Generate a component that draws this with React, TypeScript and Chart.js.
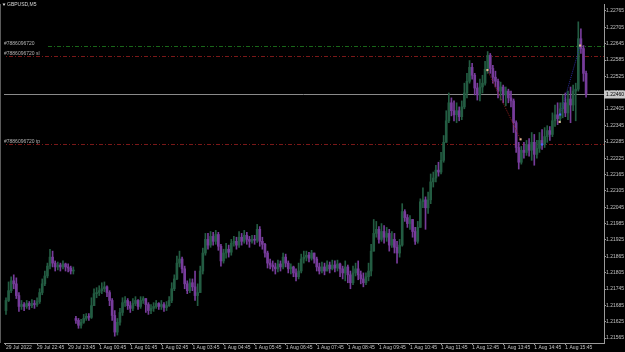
import React, { useEffect, useRef } from "react";
import { Chart, registerables } from "chart.js";

Chart.register(...registerables);

const symbolTitle = "GBPUSD,M5";

const timeLabels = [
  "29 Jul 2022", "29 Jul 22:45", "29 Jul 23:45", "1 Aug 00:45", "1 Aug 01:45",
  "1 Aug 02:45", "1 Aug 03:45", "1 Aug 04:45", "1 Aug 05:45", "1 Aug 06:45",
  "1 Aug 07:45", "1 Aug 08:45", "1 Aug 09:45", "1 Aug 10:45", "1 Aug 11:45",
  "1 Aug 12:45", "1 Aug 13:45", "1 Aug 14:45", "1 Aug 15:45",
];
const timeLabelIndex = [0, 12, 24, 36, 48, 60, 72, 84, 96, 108, 120, 132, 144, 156, 168, 180, 192, 204, 216];

const priceTicks = [
  1.22765, 1.22705, 1.22645, 1.22585, 1.22525, 1.22465, 1.22405, 1.22345, 1.22285, 1.22225,
  1.22165, 1.22105, 1.22045, 1.21985, 1.21925, 1.21865, 1.21805, 1.21745, 1.21685, 1.21625, 1.21565,
];

const closes = [
  1.21703, 1.21739, 1.21775, 1.21764, 1.21721, 1.21681, 1.21688, 1.21681, 1.21692, 1.21684,
  1.21692, 1.21688, 1.21699, 1.21732, 1.21764, 1.21793, 1.21829, 1.21862, 1.21840, 1.21826,
  1.21833, 1.21826, 1.21837, 1.21826, 1.21822, 1.21811, 1.21811, 1.21630, 1.21612, 1.21623,
  1.21637, 1.21645, 1.21641, 1.21684, 1.21728, 1.21732, 1.21739, 1.21746, 1.21753, 1.21732,
  1.21703, 1.21648, 1.21587, 1.21623, 1.21659, 1.21695, 1.21703, 1.21684, 1.21674, 1.21692,
  1.21703, 1.21681, 1.21703, 1.21710, 1.21688, 1.21666, 1.21674, 1.21681, 1.21692, 1.21681,
  1.21688, 1.21677, 1.21684, 1.21703, 1.21746, 1.21782, 1.21840, 1.21855, 1.21819, 1.21764,
  1.21739, 1.21768, 1.21753, 1.21721, 1.21732, 1.21811, 1.21877, 1.21927, 1.21906, 1.21938,
  1.21920, 1.21945, 1.21902, 1.21848, 1.21877, 1.21891, 1.21880, 1.21913, 1.21920, 1.21906,
  1.21935, 1.21920, 1.21942, 1.21927, 1.21920, 1.21927, 1.21924, 1.21964, 1.21920, 1.21909,
  1.21877, 1.21840, 1.21833, 1.21826, 1.21819, 1.21837, 1.21826, 1.21862, 1.21840, 1.21819,
  1.21826, 1.21804, 1.21790, 1.21811, 1.21855, 1.21862, 1.21869, 1.21858, 1.21877, 1.21855,
  1.21826, 1.21811, 1.21826, 1.21811, 1.21833, 1.21819, 1.21833, 1.21822, 1.21837, 1.21819,
  1.21804, 1.21826, 1.21797, 1.21768, 1.21804, 1.21819, 1.21797, 1.21782, 1.21768, 1.21790,
  1.21811, 1.21884, 1.21949, 1.21964, 1.21927, 1.21956, 1.21935, 1.21949, 1.21906, 1.21927,
  1.21898, 1.21877, 1.21906, 1.22029, 1.22007, 1.21985, 1.22000, 1.21956, 1.21920, 1.21971,
  1.22065, 1.22072, 1.22043, 1.22072, 1.22138, 1.22152, 1.22181, 1.22174, 1.22217, 1.22283,
  1.22362, 1.22428, 1.22399, 1.22384, 1.22399, 1.22377, 1.22413, 1.22464, 1.22507, 1.22558,
  1.22529, 1.22482, 1.22457, 1.22486, 1.22500, 1.22551, 1.22602, 1.22554, 1.22522, 1.22507,
  1.22471, 1.22486, 1.22457, 1.22471, 1.22446, 1.22435, 1.22355, 1.22264, 1.22210, 1.22254,
  1.22246, 1.22275, 1.22254, 1.22283, 1.22239, 1.22261, 1.22290, 1.22275, 1.22304, 1.22326,
  1.22312, 1.22362, 1.22384, 1.22370, 1.22406, 1.22428, 1.22391, 1.22442, 1.22420, 1.22471,
  1.22478, 1.22663, 1.22627, 1.22536, 1.22460,
];

const highs = [
  1.21713, 1.21771, 1.21790, 1.21797, 1.21786, 1.21732, 1.21703, 1.21695, 1.21703, 1.21699,
  1.21706, 1.21703, 1.21713, 1.21746, 1.21782, 1.21811, 1.21840, 1.21891, 1.21884, 1.21848,
  1.21844, 1.21840, 1.21848, 1.21840, 1.21837, 1.21829, 1.21826, 1.21645, 1.21637, 1.21634,
  1.21652, 1.21655, 1.21655, 1.21713, 1.21746, 1.21750, 1.21757, 1.21768, 1.21771, 1.21757,
  1.21739, 1.21710, 1.21666, 1.21637, 1.21674, 1.21713, 1.21717, 1.21710, 1.21699, 1.21710,
  1.21717, 1.21706, 1.21717, 1.21717, 1.21710, 1.21695, 1.21688, 1.21695, 1.21703, 1.21695,
  1.21703, 1.21695, 1.21699, 1.21717, 1.21768, 1.21797, 1.21866, 1.21884, 1.21862, 1.21829,
  1.21775, 1.21782, 1.21782, 1.21811, 1.21764, 1.21829, 1.21895, 1.21949, 1.21949, 1.21956,
  1.21953, 1.21960, 1.21953, 1.21909, 1.21891, 1.21913, 1.21906, 1.21927, 1.21938, 1.21935,
  1.21956, 1.21949, 1.21960, 1.21953, 1.21938, 1.21942, 1.21942, 1.21982, 1.21974, 1.21935,
  1.21913, 1.21884, 1.21855, 1.21848, 1.21840, 1.21851, 1.21848, 1.21877, 1.21873, 1.21848,
  1.21837, 1.21829, 1.21819, 1.21840, 1.21873, 1.21884, 1.21884, 1.21880, 1.21887, 1.21877,
  1.21862, 1.21840, 1.21844, 1.21840, 1.21848, 1.21844, 1.21851, 1.21848, 1.21851, 1.21840,
  1.21829, 1.21848, 1.21833, 1.21811, 1.21829, 1.21840, 1.21848, 1.21811, 1.21804, 1.21804,
  1.21840, 1.21909, 1.22000, 1.21993, 1.21974, 1.21985, 1.21978, 1.21971, 1.21964, 1.21956,
  1.21949, 1.21920, 1.21927, 1.22058, 1.22036, 1.22018, 1.22014, 1.22000, 1.21971, 1.21993,
  1.22076, 1.22116, 1.22083, 1.22101, 1.22167, 1.22174, 1.22199, 1.22210, 1.22246, 1.22308,
  1.22399, 1.22464, 1.22446, 1.22435, 1.22428, 1.22413, 1.22435, 1.22500, 1.22536, 1.22583,
  1.22573, 1.22536, 1.22500, 1.22515, 1.22529, 1.22580, 1.22616, 1.22609, 1.22565, 1.22544,
  1.22515, 1.22504, 1.22493, 1.22486, 1.22478, 1.22471, 1.22442, 1.22362, 1.22283, 1.22268,
  1.22283, 1.22290, 1.22297, 1.22319, 1.22312, 1.22290, 1.22319, 1.22330, 1.22337, 1.22344,
  1.22341, 1.22391, 1.22420, 1.22428, 1.22428, 1.22457, 1.22464, 1.22471, 1.22486, 1.22493,
  1.22500, 1.22725, 1.22699, 1.22638, 1.22544,
];

const lows = [
  1.21652, 1.21699, 1.21732, 1.21746, 1.21710, 1.21663, 1.21670, 1.21666, 1.21674, 1.21670,
  1.21677, 1.21674, 1.21681, 1.21692, 1.21724, 1.21757, 1.21786, 1.21819, 1.21826, 1.21811,
  1.21815, 1.21811, 1.21819, 1.21811, 1.21808, 1.21800, 1.21800, 1.21619, 1.21601, 1.21601,
  1.21619, 1.21630, 1.21630, 1.21637, 1.21684, 1.21713, 1.21721, 1.21728, 1.21735, 1.21717,
  1.21684, 1.21630, 1.21572, 1.21576, 1.21612, 1.21648, 1.21681, 1.21670, 1.21659, 1.21666,
  1.21684, 1.21670, 1.21674, 1.21692, 1.21659, 1.21652, 1.21655, 1.21663, 1.21674, 1.21670,
  1.21670, 1.21663, 1.21666, 1.21681, 1.21695, 1.21739, 1.21779, 1.21826, 1.21804, 1.21746,
  1.21728, 1.21732, 1.21739, 1.21703, 1.21684, 1.21732, 1.21800, 1.21869, 1.21891, 1.21898,
  1.21906, 1.21909, 1.21887, 1.21829, 1.21840, 1.21858, 1.21862, 1.21869, 1.21902, 1.21891,
  1.21898, 1.21906, 1.21913, 1.21909, 1.21898, 1.21913, 1.21909, 1.21916, 1.21902, 1.21891,
  1.21862, 1.21822, 1.21819, 1.21811, 1.21800, 1.21808, 1.21811, 1.21819, 1.21826, 1.21804,
  1.21800, 1.21790, 1.21775, 1.21782, 1.21804, 1.21840, 1.21848, 1.21844, 1.21851, 1.21840,
  1.21811, 1.21800, 1.21804, 1.21797, 1.21811, 1.21804, 1.21815, 1.21808, 1.21811, 1.21790,
  1.21782, 1.21775, 1.21768, 1.21746, 1.21761, 1.21793, 1.21779, 1.21764, 1.21753, 1.21761,
  1.21775, 1.21793, 1.21902, 1.21935, 1.21913, 1.21920, 1.21913, 1.21920, 1.21884, 1.21898,
  1.21877, 1.21840, 1.21862, 1.21902, 1.21993, 1.21971, 1.21964, 1.21935, 1.21909, 1.21913,
  1.21978, 1.22043, 1.21964, 1.22022, 1.22058, 1.22119, 1.22138, 1.22159, 1.22167, 1.22210,
  1.22283, 1.22355, 1.22380, 1.22362, 1.22355, 1.22362, 1.22366, 1.22406, 1.22446, 1.22500,
  1.22515, 1.22457, 1.22438, 1.22435, 1.22464, 1.22493, 1.22536, 1.22536, 1.22500, 1.22486,
  1.22446, 1.22438, 1.22428, 1.22417, 1.22428, 1.22413, 1.22319, 1.22246, 1.22185, 1.22203,
  1.22225, 1.22235, 1.22232, 1.22217, 1.22199, 1.22225, 1.22246, 1.22257, 1.22264, 1.22283,
  1.22290, 1.22304, 1.22341, 1.22348, 1.22355, 1.22373, 1.22377, 1.22366, 1.22355, 1.22399,
  1.22362, 1.22471, 1.22609, 1.22507, 1.22449,
];

const firstOpen = 1.21666;
const sessionStartIndex = 27;
const sessionOpen = 1.21637;

const orderLabel = "#7886096720";
const orderPrice = 1.22638;
const stopLossPrice = 1.22598;
const takeProfitPrice = 1.22276;

const markerIndex = [185.9, 198.7, 207, 214, 213.8, 221.7];
const markerPrice = [1.22548, 1.22294, 1.22275, 1.22385, 1.22358, 1.22638];
const markerColor = ["#e3b98e", "#e3b98e", "#4a66ff", "#4a66ff", "#e3b98e", "#e3b98e"];

const BULL = "#235c42";
const BEAR = "#773c9b";
const FONT = '"Liberation Sans", Arial, sans-serif';

export default function App() {
  const ref = useRef<HTMLCanvasElement | null>(null);

  useEffect(() => {
    document.body.style.margin = "0";
    document.body.style.background = "#000";
    const canvas = ref.current;
    if (!canvas) return;

    const opens = closes.map((c, i) =>
      i === 0 ? firstOpen : i === sessionStartIndex ? sessionOpen : closes[i - 1]
    );
    const colors = closes.map((c, i) => (c >= opens[i] ? BULL : BEAR));
    const currentPrice = closes[closes.length - 1];

    const overlay = {
      id: "mtOverlay",
      beforeDraw(chart: any) {
        const { ctx, width, height } = chart;
        ctx.save();
        ctx.fillStyle = "#000";
        ctx.fillRect(0, 0, width, height);
        ctx.restore();
      },
      beforeDatasetsDraw(chart: any) {
        const { ctx, chartArea: a, scales } = chart;
        const y = scales.y;
        ctx.save();
        ctx.beginPath();
        ctx.rect(a.left, a.top, a.right - a.left, a.bottom - a.top);
        ctx.clip();
        const hline = (price: number, color: string, dash: number[], fromX: number) => {
          const py = Math.round(y.getPixelForValue(price)) + 0.5;
          ctx.strokeStyle = color;
          ctx.setLineDash(dash);
          ctx.lineWidth = 1;
          ctx.beginPath();
          ctx.moveTo(fromX, py);
          ctx.lineTo(a.right, py);
          ctx.stroke();
        };
        hline(orderPrice, "#196619", [4, 2, 1, 2], 48);
        hline(stopLossPrice, "#7a1818", [4, 2, 1, 2], 0);
        hline(takeProfitPrice, "#7a1818", [4, 2, 1, 2], 0);
        hline(currentPrice, "#8a8a8a", [], 0);
        ctx.restore();
      },
      afterDraw(chart: any) {
        const { ctx, chartArea: a, scales } = chart;
        const y = scales.y;
        ctx.save();
        ctx.strokeStyle = "#5a5a5a";
        ctx.lineWidth = 1;
        ctx.beginPath();
        ctx.moveTo(0.5, a.top);
        ctx.lineTo(0.5, a.bottom);
        ctx.stroke();
        ctx.fillStyle = "#d8d8d8";
        ctx.beginPath();
        ctx.moveTo(2.5, 3.5);
        ctx.lineTo(5.5, 3.5);
        ctx.lineTo(4, 6);
        ctx.closePath();
        ctx.fill();
        ctx.font = `5px ${FONT}`;
        ctx.textBaseline = "middle";
        ctx.textAlign = "left";
        ctx.fillText(symbolTitle, 7, 4.5);
        ctx.fillStyle = "#b4b4b4";
        ctx.textBaseline = "bottom";
        const lbl = (price: number, text: string) => {
          const py = Math.round(y.getPixelForValue(price));
          ctx.fillText(text, 4, py);
        };
        lbl(orderPrice, orderLabel);
        lbl(stopLossPrice, orderLabel + " sl");
        lbl(takeProfitPrice, orderLabel + " tp");
        const cy = Math.round(y.getPixelForValue(currentPrice)) + 0.5;
        ctx.fillStyle = "#c8c8c8";
        ctx.fillRect(a.right, cy - 4, 625 - a.right, 8);
        ctx.fillStyle = "#000";
        ctx.textBaseline = "middle";
        ctx.fillText(currentPrice.toFixed(5), a.right + 2, cy);
        ctx.restore();
      },
    };

    const chart = new Chart(canvas, {
      type: "bar",
      data: {
        datasets: [
          {
            type: "line",
            data: [
              { x: markerIndex[0], y: markerPrice[0] },
              { x: markerIndex[1], y: markerPrice[1] },
            ],
            borderColor: "#8a1c1c",
            borderWidth: 1,
            borderDash: [1, 1],
            pointRadius: 0,
            order: 0,
          } as any,
          {
            type: "line",
            data: [
              { x: markerIndex[3], y: markerPrice[3] },
              { x: markerIndex[5], y: markerPrice[5] },
            ],
            borderColor: "#2a2a9a",
            borderWidth: 1,
            borderDash: [1, 1],
            pointRadius: 0,
            order: 0,
          } as any,
          {
            type: "scatter",
            data: markerIndex.map((x, i) => ({ x, y: markerPrice[i] })),
            pointStyle: "rect",
            pointRadius: 1.5,
            pointBackgroundColor: markerColor,
            pointBorderWidth: 0,
            order: -1,
          } as any,
          {
            type: "bar",
            data: closes.map((c, i) => ({
              x: i,
              y: [Math.min(lows[i], opens[i], c), Math.max(highs[i], opens[i], c)],
            })),
            backgroundColor: colors,
            borderWidth: 0,
            barThickness: 1,
            grouped: false,
            order: 3,
          } as any,
          {
            type: "bar",
            data: closes.map((c, i) => ({ x: i, y: [opens[i], c] })),
            backgroundColor: colors,
            borderWidth: 0,
            barThickness: 2,
            minBarLength: 1,
            grouped: false,
            order: 2,
          } as any,
        ],
      },
      options: {
        animation: false,
        responsive: false,
        devicePixelRatio: 1,
        layout: { padding: 0 },
        plugins: { legend: { display: false }, tooltip: { enabled: false } },
        events: [],
        scales: {
          x: {
            type: "linear",
            position: "bottom",
            min: -0.767,
            max: 230.92,
            offset: false,
            grid: {
              display: true,
              offset: false,
              drawOnChartArea: false,
              drawTicks: true,
              tickLength: 2,
              color: "#9a9a9a",
            },
            border: { display: true, color: "#9a9a9a" },
            afterBuildTicks: (scale: any) => {
              scale.ticks = timeLabelIndex.map((v) => ({ value: v }));
            },
            afterFit: (scale: any) => {
              scale.height = 9;
              scale.paddingLeft = 0;
              scale.paddingRight = 0;
            },
            ticks: {
              autoSkip: false,
              maxRotation: 0,
              minRotation: 0,
              align: "start",
              padding: 0,
              color: "#c0c0c0",
              font: { size: 5, family: FONT },
              callback: (_v: any, i: number) => timeLabels[i],
            },
          },
          y: {
            type: "linear",
            position: "right",
            min: 1.21547,
            max: 1.227904,
            grid: {
              display: true,
              drawOnChartArea: false,
              drawTicks: true,
              tickLength: 2,
              color: "#9a9a9a",
            },
            border: { display: true, color: "#9a9a9a" },
            afterBuildTicks: (scale: any) => {
              scale.ticks = priceTicks.map((v) => ({ value: v }));
            },
            afterFit: (scale: any) => {
              scale.width = 21;
              scale.paddingTop = 0;
              scale.paddingBottom = 0;
            },
            ticks: {
              padding: 0,
              color: "#c0c0c0",
              font: { size: 5, family: FONT },
              callback: (v: any) => Number(v).toFixed(5),
            },
          },
        },
      } as any,
      plugins: [overlay],
    });

    return () => chart.destroy();
  }, []);

  return (
    <canvas
      ref={ref}
      width={625}
      height={352}
      style={{ display: "block", width: 625, height: 352 }}
    />
  );
}
